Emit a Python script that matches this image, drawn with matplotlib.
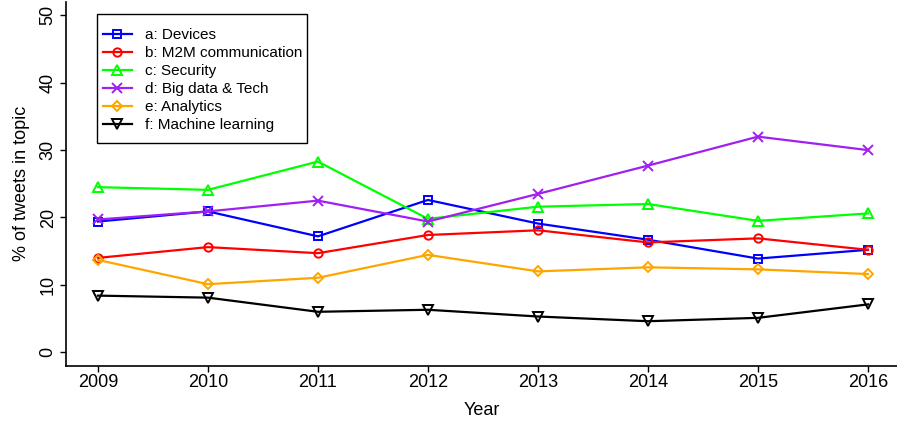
import matplotlib
matplotlib.use("Agg")
import matplotlib.pyplot as plt
from matplotlib.patches import Rectangle

plt.rcParams['font.family'] = ['Liberation Sans', 'DejaVu Sans']

years = [2009, 2010, 2011, 2012, 2013, 2014, 2015, 2016]

devices = [19.4, 20.9, 17.2, 22.6, 19.1, 16.7, 13.9, 15.2]
m2m = [14.0, 15.6, 14.7, 17.4, 18.1, 16.3, 16.9, 15.2]
security = [24.5, 24.1, 28.3, 19.8, 21.6, 22.0, 19.5, 20.6]
bigdata = [19.7, 20.9, 22.5, 19.4, 23.5, 27.7, 32.0, 30.0]
analytics = [13.7, 10.1, 11.05, 14.45, 12.0, 12.6, 12.3, 11.6]
ml = [8.4, 8.1, 6.0, 6.3, 5.3, 4.6, 5.1, 7.1]

labels = ["a: Devices", "b: M2M communication", "c: Security",
          "d: Big data & Tech", "e: Analytics", "f: Machine learning"]
series = [devices, m2m, security, bigdata, analytics, ml]
colors = ["#0000FF", "#FF0000", "#00FF00", "#A020F0", "#FFA500", "#000000"]
markers = ["s", "o", "^", "x", "D", "v"]
msizes = [6, 6, 7, 7, 5.5, 7]

fig = plt.figure(figsize=(8.97, 4.23), dpi=100)
ax = fig.add_axes([0.0741, 0.1355, 0.9259, 0.86])

for vals, lab, c, m, ms in zip(series, labels, colors, markers, msizes):
    ax.plot(years, vals, color=c, lw=1.6, marker=m, markersize=ms,
            markerfacecolor="none", markeredgecolor=c, markeredgewidth=1.4, label=lab)

ax.set_xlim(2008.714, 2016.264)
ax.set_ylim(-2, 52)
ax.set_xticks(years)
ax.set_yticks([0, 10, 20, 30, 40, 50])
for lab in ax.get_yticklabels():
    lab.set_rotation(90)
    lab.set_va("center")
ax.tick_params(axis="both", direction="out", length=4, width=1, labelsize=13)
ax.tick_params(axis="x", pad=2)
ax.tick_params(axis="y", pad=3)

ax.spines["top"].set_visible(False)
ax.spines["right"].set_visible(False)
ax.spines["left"].set_linewidth(1.2)
ax.spines["bottom"].set_linewidth(1.2)

ax.set_xlabel("Year", fontsize=13, labelpad=8)
ax.set_ylabel("% of tweets in topic", fontsize=13, labelpad=7)

# legend box drawn separately (R-style padding)
ax.add_patch(Rectangle((0.0367, 0.612), 0.2529, 0.355, transform=ax.transAxes,
                       facecolor="white", edgecolor="black", lw=1.0, zorder=4))
leg = ax.legend(loc="upper left", bbox_to_anchor=(0.037, 0.942), fontsize=11,
                frameon=False, handlelength=1.9, labelspacing=0.26, borderpad=0.35,
                borderaxespad=0, handletextpad=0.9)
leg.set_zorder(5)

fig.savefig("out.png", dpi=100)
